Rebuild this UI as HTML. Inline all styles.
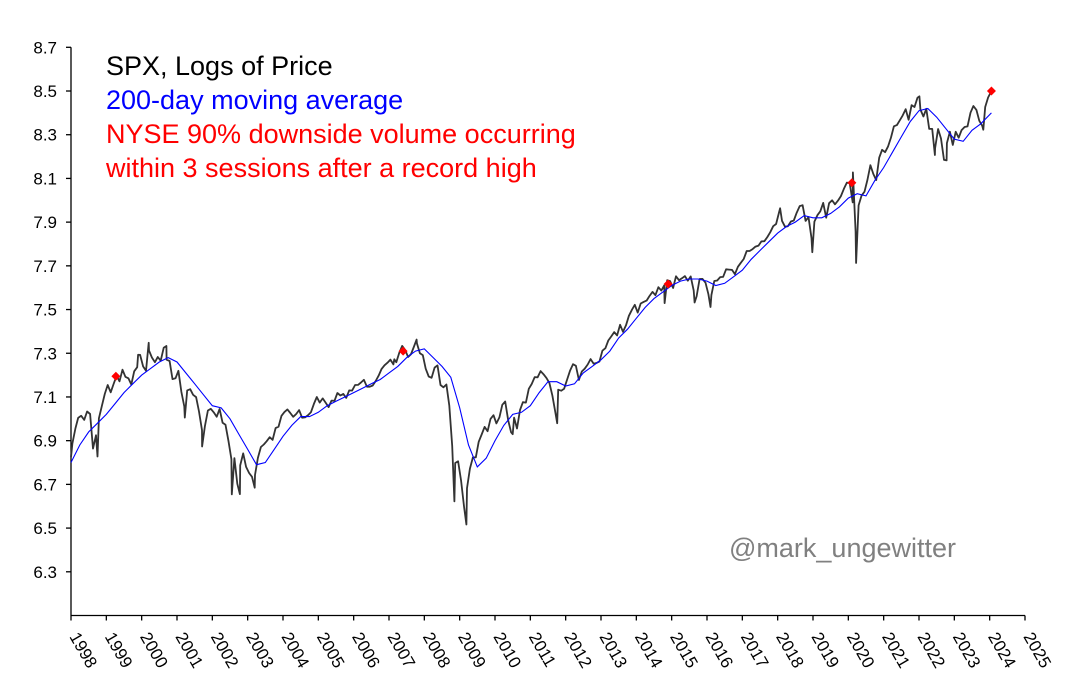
<!DOCTYPE html>
<html><head><meta charset="utf-8"><style>
html,body{margin:0;padding:0;background:#fff;}
svg{display:block;font-family:"Liberation Sans",Arial,sans-serif;}
</style></head><body>
<svg id="chart" width="1079" height="699" viewBox="0 0 1079 699">
<g id="axes"></g>
<g id="plot"></g>
<g font-size="27">
<text x="106" y="75" fill="#000">SPX, Logs of Price</text>
<text x="106" y="109" fill="#0000ff">200-day moving average</text>
<text x="106" y="143" fill="#ff0000">NYSE 90% downside volume occurring</text>
<text x="106" y="177" fill="#ff0000">within 3 sessions after a record high</text>
</g>
<text x="729" y="557" font-size="27" fill="#808080">@mark_ungewitter</text>
</svg>
<script>
const yTicks=[8.7,8.5,8.3,8.1,7.9,7.7,7.5,7.3,7.1,6.9,6.7,6.5,6.3];
const xYears=[1998,1999,2000,2001,2002,2003,2004,2005,2006,2007,2008,2009,2010,2011,2012,2013,2014,2015,2016,2017,2018,2019,2020,2021,2022,2023,2024,2025];
// monthly SPX closes from Jan 1998
const monthlyCloses=[980,1049,1102,1112,1091,1134,1121,957,1017,1099,1164,1229,
1280,1238,1286,1335,1302,1373,1329,1320,1283,1363,1389,1469,
1394,1366,1499,1452,1421,1455,1431,1518,1437,1429,1315,1320,
1366,1240,1160,1249,1256,1224,1211,1134,1041,1060,1139,1148,
1130,1107,1147,1077,1067,990,912,916,815,886,936,880,
856,841,848,917,964,975,990,1008,996,1051,1058,1112,
1131,1145,1126,1107,1121,1141,1102,1104,1115,1130,1174,1212,
1181,1204,1181,1157,1192,1191,1234,1220,1229,1207,1249,1248,
1280,1281,1295,1311,1270,1270,1277,1304,1336,1378,1401,1418,
1438,1407,1421,1482,1531,1503,1455,1474,1527,1549,1481,1468,
1379,1331,1323,1386,1400,1280,1267,1283,1165,969,896,903,
826,735,798,873,919,919,987,1021,1057,1036,1096,1115,
1074,1104,1169,1187,1089,1031,1102,1049,1141,1183,1181,1258,
1286,1327,1326,1364,1345,1321,1292,1219,1131,1253,1247,1258,
1312,1366,1408,1398,1310,1362,1379,1406,1441,1412,1416,1426,
1498,1515,1569,1598,1631,1606,1686,1633,1682,1757,1806,1848,
1783,1859,1872,1884,1924,1960,1931,2003,1972,2018,2068,2059,
1995,2105,2068,2086,2107,2063,2104,1972,1920,2079,2080,2044,
1940,1932,2060,2065,2097,2099,2174,2171,2168,2126,2199,2239,
2279,2364,2363,2384,2412,2423,2470,2472,2519,2575,2648,2674,
2824,2714,2641,2648,2705,2718,2816,2902,2914,2712,2760,2507,
2704,2784,2834,2946,2752,2942,2980,2926,2977,3038,3141,3231,
3226,2954,2585,2912,3044,3100,3271,3500,3363,3270,3622,3756,
3714,3811,3973,4181,4204,4298,4395,4523,4308,4605,4567,4766,
4516,4374,4530,4132,4132,3785,4130,3955,3586,3872,4080,3840,
4077,3970,4109,4169,4180,4450,4589,4508,4288,4194,4568,4770,
4900];
// intramonth extremes
const extremeDates=[1998.0,1998.2,1998.75,1999.9,2000.2,2000.7,2001.22,2001.71,2002.55,2002.78,2003.2,2007.15,2007.78,2008.85,2009.19,2010.5,2011.76,2014.8,2015.65,2016.1,2018.07,2018.98,2020.13,2020.22,2022.01,2022.45,2022.78,2023.82];
const extremeCloses=[920,1100,923,1470,1553,1530,1103,966,776,777,800,1440,1576,752,676,1022,1075,1862,1867,1829,2873,2351,3386,2237,4797,3667,3577,4117];
// 200-day moving average, quarterly, log values
const maDates=[1998,1998.25,1998.5,1998.75,1999,1999.25,1999.5,1999.75,2000,2000.25,2000.5,2000.75,2001,2001.25,2001.5,2001.75,2002,2002.25,2002.5,2002.75,2003,2003.25,2003.5,2003.75,2004,2004.25,2004.5,2004.75,2005,2005.25,2005.5,2005.75,2006,2006.25,2006.5,2006.75,2007,2007.25,2007.5,2007.75,2008,2008.25,2008.5,2008.75,2009,2009.25,2009.5,2009.75,2010,2010.25,2010.5,2010.75,2011,2011.25,2011.5,2011.75,2012,2012.25,2012.5,2012.75,2013,2013.25,2013.5,2013.75,2014,2014.25,2014.5,2014.75,2015,2015.25,2015.5,2015.75,2016,2016.25,2016.5,2016.75,2017,2017.25,2017.5,2017.75,2018,2018.25,2018.5,2018.75,2019,2019.25,2019.5,2019.75,2020,2020.25,2020.5,2020.75,2021,2021.25,2021.5,2021.75,2022,2022.25,2022.5,2022.75,2023,2023.25,2023.5,2023.75,2024.05];
const maValues=[6.80,6.88,6.94,6.98,7.02,7.07,7.12,7.16,7.20,7.23,7.26,7.28,7.26,7.21,7.16,7.11,7.06,7.05,7.00,6.93,6.86,6.79,6.80,6.86,6.92,6.97,7.01,7.01,7.03,7.06,7.08,7.10,7.12,7.14,7.16,7.18,7.21,7.24,7.28,7.31,7.32,7.28,7.24,7.19,7.05,6.88,6.78,6.82,6.90,6.97,7.02,7.03,7.06,7.12,7.17,7.17,7.15,7.16,7.21,7.24,7.27,7.31,7.37,7.41,7.46,7.51,7.55,7.58,7.61,7.63,7.64,7.64,7.63,7.61,7.62,7.65,7.68,7.73,7.77,7.81,7.85,7.88,7.90,7.93,7.92,7.92,7.94,7.97,8.01,8.03,8.02,8.09,8.15,8.22,8.29,8.36,8.41,8.42,8.38,8.33,8.28,8.27,8.32,8.35,8.40];
const signalDates=[1999.27,2007.4,2014.9,2020.1,2024.05];
const signalValues=[7.195,7.31,7.617,8.08,8.50];

const NS='http://www.w3.org/2000/svg';
const X0=71,X1=1025,Y0=47.3,Y1=615.5,VMAX=8.7,VMIN=6.1;
function xs(d){return X0+(d-1998)/(2025-1998)*(X1-X0);}
function ys(v){return Y0+(VMAX-v)/(VMAX-VMIN)*(Y1-Y0);}
function mk(tag,attrs,parent){const e=document.createElementNS(NS,tag);for(const k in attrs)e.setAttribute(k,attrs[k]);parent.appendChild(e);return e;}
const axes=document.getElementById('axes'),plot=document.getElementById('plot');

let a=mk('line',{x1:X0,y1:Y0,x2:X0,y2:Y1,stroke:'#000','stroke-width':1.3},axes);


a=mk('line',{x1:X0,y1:Y1,x2:X1,y2:Y1,stroke:'#000','stroke-width':1.3},axes);


yTicks.forEach(v=>{
  const t=mk('line',{x1:X0-5,y1:ys(v),x2:X0,y2:ys(v),stroke:'#000','stroke-width':1.3},axes);
  
  
  const l=mk('text',{x:57,y:ys(v)+6,'text-anchor':'end','font-size':17,fill:'#000'},axes);
  l.textContent=v.toFixed(1);
  
  
});
xYears.forEach(yr=>{
  const x=xs(yr);
  const t=mk('line',{x1:x,y1:Y1,x2:x,y2:Y1+5,stroke:'#000','stroke-width':1.3},axes);
  
  
  const l=mk('text',{x:0,y:0,'font-size':17,fill:'#000',transform:`translate(${x-2},${Y1+21}) rotate(60)`},axes);
  l.textContent=yr;
  
  
});

// price series
const pts=monthlyCloses.map((c,i)=>[1998+i/12+0.04,c]);
extremeDates.forEach((d,i)=>pts.push([d,extremeCloses[i]]));
pts.sort((p,q)=>p[0]-q[0]);
let p=mk('polyline',{points:pts.map(q=>xs(q[0]).toFixed(1)+','+ys(Math.log(q[1])).toFixed(1)).join(' '),fill:'none',stroke:'#333','stroke-width':1.8,'stroke-linejoin':'round'},plot);


p=mk('polyline',{points:maDates.map((d,i)=>xs(d).toFixed(1)+','+ys(maValues[i]).toFixed(1)).join(' '),fill:'none',stroke:'#0000ff','stroke-width':1.1},plot);


signalDates.forEach((d,i)=>{
  const x=xs(d),y=ys(signalValues[i]);
  const m=mk('polygon',{points:`${x},${y-4.5} ${x+4.5},${y} ${x},${y+4.5} ${x-4.5},${y}`,fill:'#ff0000'},plot);
  
  
});
</script>
</body></html>
